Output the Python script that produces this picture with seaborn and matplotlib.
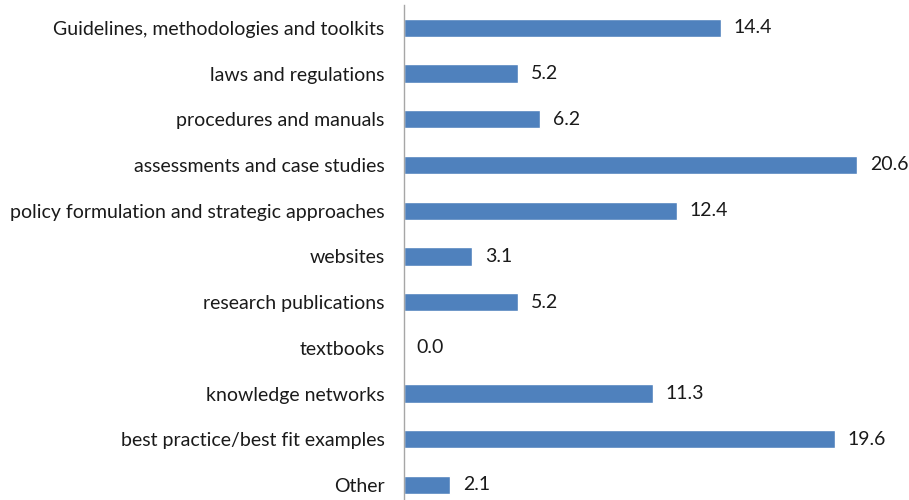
import pandas as pd
import matplotlib
matplotlib.use("Agg")
import matplotlib.pyplot as plt
import seaborn as sns

# data
categories = [
    "Guidelines, methodologies and toolkits",
    "laws and regulations",
    "procedures and manuals",
    "assessments and case studies",
    "policy formulation and strategic approaches",
    "websites",
    "research publications",
    "textbooks",
    "knowledge networks",
    "best practice/best fit examples",
    "Other",
]
values = [14.4, 5.2, 6.2, 20.6, 12.4, 3.1, 5.2, 0.0, 11.3, 19.6, 2.1]

df = pd.DataFrame({"category": categories, "value": values})

sns.set_style("white")
plt.rcParams["font.family"] = ["Lato", "DejaVu Sans"]

fig = plt.figure(figsize=(9.09, 5.0), dpi=100)
ax = fig.add_axes([404 / 909, 0.0, 1 - 404 / 909, 0.99])

sns.barplot(data=df, x="value", y="category", color="#4F81BD", width=0.4,
            saturation=1, ax=ax)

ax.set_xlim(0, 22.95)
ax.set_ylim(10.33, -0.5)

ax.bar_label(ax.containers[0], fmt="%.1f", padding=9, fontsize=14,
             color="#1a1a1a")

ax.set_xlabel("")
ax.set_ylabel("")
ax.set_xticks([])
ax.tick_params(axis="y", length=0, pad=14, labelsize=14, labelcolor="#1a1a1a")

for side in ["top", "right", "bottom"]:
    ax.spines[side].set_visible(False)
ax.spines["left"].set_color("#A6A6A6")
ax.spines["left"].set_linewidth(1.0)

fig.savefig("out.png", dpi=100)
